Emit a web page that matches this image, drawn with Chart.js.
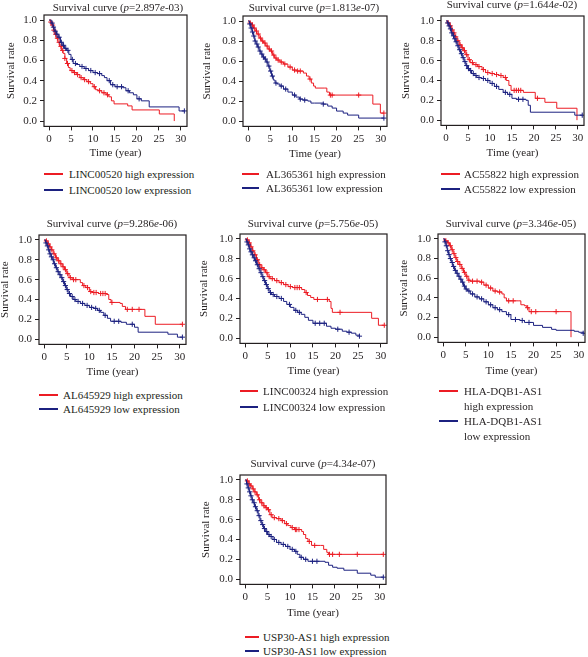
<!DOCTYPE html>
<html><head><meta charset="utf-8">
<script src="https://cdn.jsdelivr.net/npm/chart.js@4/dist/chart.umd.min.js"></script>
<style>
html,body{margin:0;padding:0;background:#fff;}
body{width:588px;height:657px;position:relative;overflow:hidden;font-family:"Liberation Serif","DejaVu Serif",serif;color:#231f20;}
.ttl{position:absolute;font-size:11px;white-space:nowrap;transform:translate(-50%,-50%);line-height:1;}
.lg{position:absolute;font-size:11px;white-space:nowrap;line-height:1;transform:translateY(-50%);}
.ln{position:absolute;height:1.5px;}
canvas{position:absolute;}
</style></head><body>
<script>
// ---------- tick labels ----------
const xTicks = [0, 5, 10, 15, 20, 25, 30];
const yTicks = [0, 0.2, 0.4, 0.6, 0.8, 1.0];
// ---------- panel labels ----------
const genes = ['LINC00520', 'AL365361', 'AC55822', 'AL645929', 'LINC00324', 'HLA-DQB1-AS1', 'USP30-AS1'];
const pMant = ['2.897', '1.813', '1.644', '9.286', '5.756', '3.346', '4.34'];
const pExp = ['-03', '-07', '-02', '-06', '-05', '-05', '-07'];

// ---------- survival data: times (years), survival after step, censor times ----------
const p1HighT = [0, 0.3, 0.6, 1.0, 1.3, 1.6, 2.0, 2.4, 2.8, 3.2, 3.6, 4.0, 4.4, 4.8, 5.5, 6.2, 7.0, 7.8, 8.6, 9.4, 10.0, 10.6, 11.2, 12.0, 13.0, 13.6, 14.2, 14.8, 17.9, 18.9, 25.1, 28.5];
const p1HighS = [1, 0.98, 0.95, 0.90, 0.86, 0.82, 0.78, 0.74, 0.70, 0.67, 0.62, 0.57, 0.53, 0.50, 0.48, 0.46, 0.43, 0.41, 0.39, 0.37, 0.34, 0.31, 0.30, 0.28, 0.26, 0.24, 0.20, 0.17, 0.15, 0.11, 0.07, 0.0];
const p1HighC = [0.4, 0.8, 1.1, 1.5, 1.9, 2.3, 2.7, 3.1, 3.6, 4.2, 5.2, 5.8, 6.5, 7.3, 8.1, 9.0, 10.3, 11.5, 12.5, 13.3];
const p1LowT = [0, 0.5, 0.9, 1.3, 1.7, 2.1, 2.6, 3.0, 3.5, 4.0, 4.5, 5.0, 5.5, 6.2, 7.0, 8.0, 9.0, 10.0, 11.0, 12.0, 12.6, 13.2, 14.0, 15.0, 16.8, 17.5, 18.3, 19.2, 20.0, 21.0, 22.8, 29.6, 30.8];
const p1LowS = [1, 0.97, 0.93, 0.89, 0.86, 0.83, 0.78, 0.75, 0.72, 0.70, 0.66, 0.61, 0.57, 0.56, 0.54, 0.52, 0.50, 0.48, 0.47, 0.45, 0.43, 0.40, 0.36, 0.34, 0.33, 0.30, 0.28, 0.26, 0.22, 0.20, 0.14, 0.10, 0.10];
const p1LowC = [0.7, 1.0, 1.4, 1.8, 2.3, 2.8, 3.3, 3.8, 4.3, 5.3, 6.0, 7.5, 8.4, 9.5, 10.5, 11.5, 13.7, 14.5, 15.5, 16.5, 18.0, 20.5, 30.8];

const p2HighT = [0, 0.4, 0.8, 1.2, 1.6, 2.0, 2.5, 3.0, 3.5, 4.0, 4.5, 5.0, 5.5, 6.0, 6.5, 7.2, 8.0, 9.0, 10.0, 11.0, 12.5, 13.2, 13.8, 14.3, 14.8, 15.2, 17.2, 17.8, 18.4, 28.2, 29.9, 30.7];
const p2HighS = [1, 0.98, 0.96, 0.93, 0.90, 0.87, 0.83, 0.80, 0.78, 0.75, 0.72, 0.70, 0.66, 0.63, 0.61, 0.59, 0.57, 0.54, 0.51, 0.50, 0.48, 0.45, 0.42, 0.38, 0.35, 0.33, 0.33, 0.29, 0.26, 0.17, 0.08, 0.08];
const p2HighC = [0.5, 1.0, 1.4, 1.9, 2.3, 2.8, 3.3, 3.8, 4.3, 4.8, 5.3, 5.8, 6.3, 6.8, 7.5, 8.3, 9.5, 10.5, 11.2, 11.8, 14.0, 18.6, 19.0, 25.0, 30.7];
const p2LowT = [0, 0.3, 0.6, 0.9, 1.2, 1.5, 1.8, 2.1, 2.5, 2.9, 3.3, 3.7, 4.1, 4.5, 4.9, 5.3, 5.7, 6.1, 6.6, 7.2, 8.0, 9.0, 10.0, 10.8, 11.6, 12.4, 13.5, 14.2, 15.0, 17.0, 18.0, 19.0, 20.0, 21.5, 22.5, 25.0, 30.7];
const p2LowS = [1, 0.97, 0.93, 0.89, 0.85, 0.80, 0.77, 0.74, 0.70, 0.67, 0.64, 0.62, 0.59, 0.55, 0.50, 0.45, 0.41, 0.38, 0.37, 0.35, 0.32, 0.29, 0.26, 0.24, 0.22, 0.21, 0.20, 0.18, 0.18, 0.17, 0.15, 0.13, 0.10, 0.08, 0.06, 0.03, 0.03];
const p2LowC = [0.4, 0.7, 1.0, 1.3, 1.6, 2.0, 2.3, 2.7, 3.1, 3.5, 3.9, 4.3, 4.7, 5.1, 5.5, 6.3, 7.5, 8.5, 10.5, 11.8, 12.8, 17.0, 30.7];

const p3HighT = [0, 0.4, 0.8, 1.2, 1.6, 2.0, 2.5, 3.0, 3.5, 4.0, 4.5, 5.0, 5.5, 6.2, 7.2, 8.2, 9.0, 10.0, 11.0, 12.0, 13.0, 13.7, 14.3, 14.8, 17.2, 17.6, 20.3, 22.5, 25.2, 29.8];
const p3HighS = [1, 0.98, 0.95, 0.91, 0.88, 0.84, 0.80, 0.76, 0.73, 0.70, 0.66, 0.61, 0.58, 0.56, 0.54, 0.51, 0.48, 0.47, 0.46, 0.45, 0.43, 0.40, 0.35, 0.30, 0.30, 0.28, 0.22, 0.18, 0.12, 0.0];
const p3HighC = [0.5, 1.0, 1.4, 1.8, 2.2, 2.7, 3.2, 3.7, 4.2, 4.7, 5.3, 6.0, 6.8, 7.5, 8.5, 9.5, 10.5, 11.5, 12.5, 13.5, 15.5, 16.0, 16.5, 17.0, 20.8];
const p3LowT = [0, 0.3, 0.6, 0.9, 1.2, 1.5, 1.8, 2.1, 2.5, 2.9, 3.3, 3.7, 4.1, 4.5, 4.9, 5.3, 5.8, 6.4, 7.0, 8.0, 9.0, 10.0, 11.0, 12.0, 13.0, 14.0, 15.0, 16.0, 18.2, 18.7, 19.2, 29.3, 31.0];
const p3LowS = [1, 0.98, 0.95, 0.92, 0.88, 0.85, 0.82, 0.79, 0.75, 0.71, 0.67, 0.63, 0.59, 0.55, 0.52, 0.50, 0.47, 0.45, 0.43, 0.42, 0.40, 0.37, 0.34, 0.31, 0.28, 0.26, 0.22, 0.21, 0.20, 0.15, 0.08, 0.05, 0.05];
const p3LowC = [0.4, 0.7, 1.0, 1.3, 1.7, 2.0, 2.3, 2.7, 3.1, 3.5, 3.9, 4.3, 4.7, 5.1, 5.6, 6.2, 6.8, 7.5, 8.5, 9.5, 10.5, 11.5, 13.5, 14.5, 16.5, 17.5, 31.0];

const p4HighT = [0, 0.4, 0.8, 1.2, 1.6, 2.0, 2.5, 3.0, 3.5, 4.0, 4.5, 5.0, 5.5, 6.2, 7.5, 8.0, 8.5, 9.2, 10.0, 10.6, 12.0, 13.8, 14.3, 14.8, 16.8, 17.3, 18.0, 22.3, 24.6, 30.6];
const p4HighS = [1, 0.99, 0.96, 0.93, 0.90, 0.86, 0.82, 0.79, 0.76, 0.73, 0.70, 0.66, 0.62, 0.60, 0.60, 0.57, 0.54, 0.52, 0.48, 0.47, 0.46, 0.45, 0.40, 0.37, 0.36, 0.33, 0.30, 0.23, 0.15, 0.15];
const p4HighC = [0.5, 0.9, 1.3, 1.7, 2.2, 2.7, 3.2, 3.7, 4.2, 4.7, 5.2, 5.8, 6.5, 7.0, 8.8, 9.6, 10.3, 11.0, 11.5, 12.5, 13.0, 13.5, 15.0, 18.4, 19.5, 21.0, 30.6];
const p4LowT = [0, 0.3, 0.6, 0.9, 1.2, 1.5, 1.8, 2.1, 2.5, 2.9, 3.3, 3.7, 4.1, 4.5, 4.9, 5.3, 5.8, 6.4, 7.0, 8.0, 9.0, 10.0, 11.0, 11.8, 12.5, 13.2, 14.0, 14.7, 17.0, 18.2, 20.0, 20.8, 27.4, 29.5, 30.6];
const p4LowS = [1, 0.97, 0.94, 0.90, 0.86, 0.83, 0.80, 0.76, 0.72, 0.68, 0.65, 0.62, 0.58, 0.54, 0.50, 0.46, 0.43, 0.40, 0.38, 0.36, 0.34, 0.32, 0.31, 0.29, 0.27, 0.24, 0.21, 0.18, 0.17, 0.15, 0.12, 0.07, 0.05, 0.02, 0.02];
const p4LowC = [0.4, 0.7, 1.0, 1.3, 1.6, 2.0, 2.3, 2.7, 3.1, 3.5, 3.9, 4.3, 4.7, 5.1, 5.6, 6.2, 6.8, 7.5, 8.5, 9.5, 10.5, 11.4, 12.2, 13.5, 15.5, 16.5, 19.5, 30.6];

const p5HighT = [0, 0.4, 0.8, 1.2, 1.6, 2.0, 2.5, 3.0, 3.5, 4.0, 4.5, 5.0, 5.5, 6.5, 7.5, 8.5, 9.5, 10.5, 12.5, 13.2, 13.8, 14.5, 15.2, 18.6, 19.0, 19.3, 28.0, 29.5, 30.8];
const p5HighS = [1, 0.99, 0.96, 0.92, 0.88, 0.84, 0.79, 0.74, 0.71, 0.69, 0.66, 0.62, 0.60, 0.58, 0.56, 0.54, 0.52, 0.51, 0.49, 0.46, 0.43, 0.41, 0.39, 0.37, 0.30, 0.26, 0.20, 0.13, 0.13];
const p5HighC = [0.5, 0.9, 1.3, 1.7, 2.2, 2.7, 3.2, 3.7, 4.2, 4.8, 5.3, 6.0, 7.0, 8.0, 9.0, 10.0, 11.0, 11.5, 12.0, 13.5, 16.0, 18.2, 21.0, 30.8];
const p5LowT = [0, 0.3, 0.6, 0.9, 1.2, 1.5, 1.8, 2.1, 2.5, 2.9, 3.3, 3.7, 4.1, 4.5, 4.9, 5.3, 5.8, 6.5, 7.5, 8.5, 9.2, 10.0, 10.8, 11.6, 12.4, 13.2, 14.0, 15.0, 17.2, 18.0, 19.0, 20.0, 21.5, 22.5, 23.5, 24.5, 25.3];
const p5LowS = [1, 0.97, 0.94, 0.90, 0.87, 0.84, 0.81, 0.78, 0.74, 0.70, 0.66, 0.62, 0.58, 0.54, 0.50, 0.46, 0.44, 0.42, 0.40, 0.37, 0.34, 0.31, 0.28, 0.26, 0.24, 0.21, 0.18, 0.15, 0.15, 0.12, 0.10, 0.09, 0.07, 0.06, 0.05, 0.03, 0.02];
const p5LowC = [0.4, 0.7, 1.0, 1.3, 1.6, 2.0, 2.3, 2.7, 3.1, 3.5, 3.9, 4.3, 4.7, 5.1, 5.6, 6.2, 7.0, 8.0, 9.8, 11.2, 12.0, 15.5, 16.5, 17.5, 20.5, 23.0, 25.3];

const p6HighT = [0, 0.5, 1.0, 1.4, 1.8, 2.2, 2.6, 3.0, 3.5, 4.0, 4.5, 5.0, 5.5, 6.0, 8.2, 9.0, 10.0, 11.0, 12.0, 13.0, 13.5, 14.0, 16.6, 17.2, 18.0, 18.5, 19.0, 28.3];
const p6HighS = [1, 0.98, 0.96, 0.93, 0.89, 0.85, 0.81, 0.77, 0.74, 0.70, 0.66, 0.62, 0.58, 0.57, 0.56, 0.53, 0.50, 0.47, 0.46, 0.44, 0.40, 0.37, 0.37, 0.33, 0.32, 0.30, 0.26, 0.0];
const p6HighC = [0.6, 1.1, 1.6, 2.0, 2.4, 2.8, 3.2, 3.7, 4.2, 4.7, 5.2, 5.7, 6.5, 7.5, 8.5, 9.5, 10.5, 11.5, 12.5, 14.5, 15.5, 18.7, 19.5, 20.5, 25.0];
const p6LowT = [0, 0.3, 0.6, 0.9, 1.2, 1.5, 1.8, 2.1, 2.5, 2.9, 3.3, 3.7, 4.1, 4.5, 4.9, 5.4, 6.0, 7.0, 8.0, 9.0, 10.0, 11.0, 12.0, 13.0, 14.0, 15.0, 17.0, 18.0, 20.0, 22.0, 24.0, 25.0, 29.0, 30.0, 31.0];
const p6LowS = [1, 0.97, 0.93, 0.88, 0.84, 0.80, 0.76, 0.72, 0.68, 0.65, 0.62, 0.59, 0.56, 0.52, 0.49, 0.47, 0.44, 0.41, 0.39, 0.36, 0.33, 0.30, 0.28, 0.26, 0.23, 0.18, 0.17, 0.15, 0.12, 0.10, 0.08, 0.07, 0.06, 0.05, 0.04];
const p6LowC = [0.4, 0.7, 1.0, 1.3, 1.6, 2.0, 2.3, 2.7, 3.1, 3.5, 3.9, 4.3, 4.7, 5.1, 5.7, 6.5, 7.5, 8.5, 9.5, 10.5, 11.5, 12.5, 14.5, 16.0, 17.5, 19.0, 31.0];

const p7HighT = [0, 0.4, 0.8, 1.2, 1.6, 2.0, 2.5, 3.0, 3.5, 4.0, 4.5, 5.0, 5.5, 6.0, 7.0, 8.0, 8.8, 9.5, 10.2, 11.0, 12.6, 13.0, 13.5, 14.0, 14.8, 16.8, 17.5, 18.2, 18.6, 30.8];
const p7HighS = [1, 0.99, 0.96, 0.94, 0.91, 0.88, 0.85, 0.80, 0.77, 0.74, 0.72, 0.70, 0.65, 0.62, 0.61, 0.59, 0.56, 0.54, 0.52, 0.50, 0.48, 0.45, 0.41, 0.38, 0.34, 0.34, 0.30, 0.27, 0.25, 0.25];
const p7HighC = [0.5, 0.9, 1.3, 1.8, 2.2, 2.7, 3.2, 3.7, 4.2, 4.7, 5.2, 5.8, 6.5, 7.5, 8.3, 9.2, 10.5, 11.2, 11.5, 12.0, 14.3, 15.5, 18.8, 19.5, 21.0, 25.0, 30.8];
const p7LowT = [0, 0.3, 0.6, 0.9, 1.2, 1.5, 1.8, 2.1, 2.5, 2.9, 3.3, 3.7, 4.1, 4.5, 5.0, 5.5, 6.2, 7.0, 8.0, 9.0, 10.0, 11.0, 11.6, 12.2, 13.0, 14.0, 17.8, 18.6, 19.5, 20.5, 22.0, 25.0, 28.0, 29.0, 30.8];
const p7LowS = [1, 0.96, 0.92, 0.88, 0.84, 0.80, 0.77, 0.73, 0.69, 0.64, 0.59, 0.55, 0.51, 0.48, 0.45, 0.43, 0.40, 0.37, 0.35, 0.33, 0.30, 0.28, 0.25, 0.22, 0.20, 0.18, 0.17, 0.14, 0.12, 0.11, 0.09, 0.06, 0.04, 0.02, 0.02];
const p7LowC = [0.4, 0.7, 1.0, 1.3, 1.6, 2.0, 2.3, 2.7, 3.1, 3.5, 3.9, 4.3, 4.8, 5.3, 5.8, 6.5, 7.5, 8.5, 9.5, 10.5, 11.3, 12.5, 13.5, 15.0, 16.0, 30.8];

// ---------- layout (pixel geometry, not data) ----------
const layouts = [
  {box:{l:44,r:187,t:15,b:126}, yTitleX:12, xTitleY:153, titleX:118, titleY:7, lgLineX:44, lgLineW:19, lgTextX:69, lgY:[174,190]},
  {box:{l:243,r:387,t:16,b:126}, yTitleX:208, xTitleY:154, titleX:314, titleY:7, lgLineX:242, lgLineW:17, lgTextX:266, lgY:[174,188]},
  {box:{l:441,r:584,t:16,b:125}, yTitleX:407, xTitleY:153, titleX:512, titleY:4, lgLineX:441, lgLineW:19, lgTextX:464, lgY:[174,189]},
  {box:{l:39,r:186,t:235,b:344}, yTitleX:6, xTitleY:372, titleX:112, titleY:223, lgLineX:39, lgLineW:19, lgTextX:63, lgY:[395,409]},
  {box:{l:240,r:387,t:234,b:343}, yTitleX:205, xTitleY:371, titleX:313, titleY:223, lgLineX:240, lgLineW:18, lgTextX:263, lgY:[391,407]},
  {box:{l:438,r:585,t:234,b:342}, yTitleX:405, xTitleY:371, titleX:511, titleY:223, lgLineX:439, lgLineW:19, lgTextX:464, lgY:[391,421], wrap:true},
  {box:{l:240,r:386,t:475,b:584}, yTitleX:207, xTitleY:613, titleX:313, titleY:463, lgLineX:245, lgLineW:14, lgTextX:263, lgY:[637,651]}
];

const series = [
  [p1HighT, p1HighS, p1HighC, p1LowT, p1LowS, p1LowC],
  [p2HighT, p2HighS, p2HighC, p2LowT, p2LowS, p2LowC],
  [p3HighT, p3HighS, p3HighC, p3LowT, p3LowS, p3LowC],
  [p4HighT, p4HighS, p4HighC, p4LowT, p4LowS, p4LowC],
  [p5HighT, p5HighS, p5HighC, p5LowT, p5LowS, p5LowC],
  [p6HighT, p6HighS, p6HighC, p6LowT, p6LowS, p6LowC],
  [p7HighT, p7HighS, p7HighC, p7LowT, p7LowS, p7LowC]
];

const RED = '#ec1c24';
const BLUE = '#1c2180';
const INK = '#231f20';
const FONT = {family: '"Liberation Serif","DejaVu Serif",serif', size: 11, lineHeight: 1.2};
const LH = 13.2;

function stepAt(T, S, t) {
  let v = S[0];
  for (let i = 0; i < T.length; i++) { if (T[i] <= t) v = S[i]; else break; }
  return v;
}

const boxPlugin = {
  id: 'plotBox',
  afterDraw(chart) {
    const {ctx, chartArea: a} = chart;
    ctx.save();
    ctx.strokeStyle = INK;
    ctx.lineWidth = 1.2;
    ctx.strokeRect(a.left, a.top, a.right - a.left, a.bottom - a.top);
    ctx.restore();
  }
};

function addDiv(cls, html, left, top, extra) {
  const d = document.createElement('div');
  d.className = cls;
  d.innerHTML = html;
  d.style.left = left + 'px';
  d.style.top = top + 'px';
  if (extra) Object.assign(d.style, extra);
  document.body.appendChild(d);
  return d;
}

layouts.forEach((L, k) => {
  const [hT, hS, hC, lT, lS, lC] = series[k];
  const box = L.box;
  const cl = Math.round(L.yTitleX - 4 - LH / 2);
  const ct = box.t - 12;
  const cw = box.r + 12 - cl;
  const H = L.xTitleY + LH / 2 - box.b;
  const ch = Math.ceil(box.b + H + 4 - ct);
  const cv = document.createElement('canvas');
  cv.width = cw; cv.height = ch;
  cv.style.left = cl + 'px'; cv.style.top = ct + 'px';
  cv.style.width = cw + 'px'; cv.style.height = ch + 'px';
  document.body.appendChild(cv);

  const curve = (T, S, col) => ({
    data: T.map((t, i) => ({x: t, y: S[i]})),
    borderColor: col, backgroundColor: col, borderWidth: 1, stepped: 'before',
    pointRadius: 0, fill: false
  });
  const marks = (C, T, S, col) => ({
    data: C.map(t => ({x: t, y: stepAt(T, S, t)})),
    showLine: false, pointStyle: 'cross', pointRadius: 2.6, borderColor: col,
    backgroundColor: col, borderWidth: 1
  });

  new Chart(cv.getContext('2d'), {
    type: 'line',
    data: {datasets: [
      curve(lT, lS, BLUE), marks(lC, lT, lS, BLUE),
      curve(hT, hS, RED), marks(hC, hT, hS, RED)
    ]},
    options: {
      responsive: false, animation: false, devicePixelRatio: 1,
      layout: {padding: {left: 0, top: 12, right: 12, bottom: 4}},
      plugins: {legend: {display: false}, tooltip: {enabled: false}, title: {display: false}},
      scales: {
        x: {
          type: 'linear', min: -1.15, max: 31.4,
          afterBuildTicks: s => { s.ticks = xTicks.map(v => ({value: v})); },
          afterFit: s => { s.height = H; },
          ticks: {color: INK, font: FONT, padding: 2, maxRotation: 0, autoSkip: false, callback: v => String(v)},
          grid: {drawOnChartArea: false, drawTicks: true, tickLength: 4, color: INK, tickColor: INK},
          border: {display: false},
          title: {display: true, text: 'Time (year)', color: INK, font: FONT, padding: {top: 0, bottom: 0}}
        },
        y: {
          type: 'linear', min: -0.053, max: 1.05,
          afterBuildTicks: s => { s.ticks = yTicks.map(v => ({value: v})); },
          afterFit: s => { s.width = box.l - cl; },
          ticks: {color: INK, font: FONT, padding: 3, autoSkip: false, callback: v => v.toFixed(1)},
          grid: {drawOnChartArea: false, drawTicks: true, tickLength: 4, color: INK, tickColor: INK},
          border: {display: false},
          title: {display: true, text: 'Survival rate', color: INK, font: FONT, padding: {top: 4, bottom: 0}}
        }
      }
    },
    plugins: [boxPlugin]
  });

  // title
  addDiv('ttl', 'Survival curve (<i>p</i>=' + pMant[k] + '<i>e</i>' + pExp[k] + ')', L.titleX, L.titleY);

  // legend
  const items = [[RED, 'high expression'], [BLUE, 'low expression']];
  items.forEach(([col, word], j) => {
    const y = L.lgY[j];
    const ln = document.createElement('div');
    ln.className = 'ln';
    ln.style.left = L.lgLineX + 'px';
    ln.style.top = (y - 0.75) + 'px';
    ln.style.width = L.lgLineW + 'px';
    ln.style.background = col;
    document.body.appendChild(ln);
    if (L.wrap) {
      addDiv('lg', genes[k] + '<br>' + word, L.lgTextX, y - 7.5 + 7.5, {lineHeight: '15px', transform: 'translateY(-7.5px)'});
    } else {
      addDiv('lg', genes[k] + ' ' + word, L.lgTextX, y);
    }
  });
});
</script>
</body></html>
